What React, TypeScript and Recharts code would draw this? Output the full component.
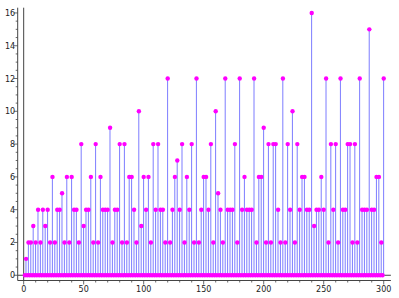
import React from 'react';
import { ComposedChart, Bar, Scatter, XAxis, YAxis, ReferenceLine } from 'recharts';

// Number of even divisors of n, for n = 1..300
const evenDivisorCounts: number[] = [
  0, 1, 0, 2, 0, 2, 0, 3, 0, 2, 0, 4, 0, 2, 0, 4, 0, 3, 0, 4,
  0, 2, 0, 6, 0, 2, 0, 4, 0, 4, 0, 5, 0, 2, 0, 6, 0, 2, 0, 6,
  0, 4, 0, 4, 0, 2, 0, 8, 0, 3, 0, 4, 0, 4, 0, 6, 0, 2, 0, 8,
  0, 2, 0, 6, 0, 4, 0, 4, 0, 4, 0, 9, 0, 2, 0, 4, 0, 4, 0, 8,
  0, 2, 0, 8, 0, 2, 0, 6, 0, 6, 0, 4, 0, 2, 0, 10, 0, 3, 0, 6,
  0, 4, 0, 6, 0, 2, 0, 8, 0, 4, 0, 8, 0, 4, 0, 4, 0, 2, 0, 12,
  0, 2, 0, 4, 0, 6, 0, 7, 0, 4, 0, 8, 0, 2, 0, 6, 0, 4, 0, 8,
  0, 2, 0, 12, 0, 2, 0, 4, 0, 6, 0, 6, 0, 4, 0, 8, 0, 2, 0, 10,
  0, 5, 0, 4, 0, 2, 0, 12, 0, 4, 0, 4, 0, 4, 0, 8, 0, 2, 0, 12,
  0, 4, 0, 6, 0, 4, 0, 4, 0, 4, 0, 12, 0, 2, 0, 6, 0, 6, 0, 9,
  0, 2, 0, 8, 0, 2, 0, 8, 0, 8, 0, 4, 0, 2, 0, 12, 0, 2, 0, 8,
  0, 4, 0, 10, 0, 2, 0, 8, 0, 4, 0, 6, 0, 6, 0, 4, 0, 4, 0, 16,
  0, 3, 0, 4, 0, 4, 0, 6, 0, 4, 0, 12, 0, 2, 0, 8, 0, 4, 0, 8,
  0, 2, 0, 12, 0, 4, 0, 4, 0, 8, 0, 8, 0, 2, 0, 8, 0, 2, 0, 12,
  0, 4, 0, 4, 0, 4, 0, 15, 0, 4, 0, 4, 0, 6, 0, 6, 0, 2, 0, 12,
];

const xMajorTicks = [0, 50, 100, 150, 200, 250, 300];
const yMajorTicks = [0, 2, 4, 6, 8, 10, 12, 14, 16];

const data = evenDivisorCounts.map((v, i) => ({ n: i + 1, v }));

const xMinor: number[] = [];
for (let t = 0; t <= 300; t += 10) xMinor.push(t);
const yMinor: number[] = [];
for (let t = 0; t <= 16.001; t += 0.5) yMinor.push(Math.round(t * 10) / 10);

const FRAME = '#444';
const TEXT = '#222';
const FONT = 'DejaVu Sans, sans-serif';

const XTick = (props: any) => {
  const { x, y, payload } = props;
  const v = payload.value;
  const major = xMajorTicks.includes(v);
  return (
    <g>
      <line x1={x} x2={x} y1={y} y2={y + (major ? 4 : 2)} stroke={FRAME} strokeWidth={0.8} />
      {major && (
        <text x={x} y={y + 11} textAnchor="middle" fontSize={8} fill={TEXT} fontFamily={FONT}>
          {v}
        </text>
      )}
    </g>
  );
};

const YTick = (props: any) => {
  const { x, y, payload } = props;
  const v = payload.value;
  const major = yMajorTicks.includes(v);
  return (
    <g>
      <line x1={x} x2={x - (major ? 4 : 2)} y1={y} y2={y} stroke={FRAME} strokeWidth={0.8} />
      {major && (
        <text x={x - 2.5} y={y + 3} textAnchor="end" fontSize={8} fill={TEXT} fontFamily={FONT}>
          {v}
        </text>
      )}
    </g>
  );
};

const Dot = (p: any) => <circle cx={p.cx} cy={p.cy} r={2.2} fill="#ff00ff" />;

export default function App() {
  return (
    <div style={{ position: 'absolute', left: 0, top: 0, background: '#fff' }}>
      <ComposedChart
        width={399}
        height={298}
        data={data}
        margin={{ top: 7.7, right: 8.1, left: 0, bottom: 0 }}
      >
        <XAxis
          xAxisId="b"
          dataKey="n"
          type="number"
          domain={[-4.98, 305.98]}
          allowDataOverflow
          ticks={xMinor}
          interval={0}
          tick={<XTick />}
          tickLine={false}
          tickSize={0}
          tickMargin={0}
          height={17.5}
          axisLine={{ stroke: FRAME, strokeWidth: 1 }}
        />
        <XAxis
          xAxisId="t"
          orientation="top"
          type="number"
          dataKey="n"
          domain={[-4.98, 305.98]}
          allowDataOverflow
          height={0}
          tick={false}
          tickLine={false}
          axisLine={{ stroke: FRAME, strokeWidth: 1 }}
        />
        <YAxis
          yAxisId="l"
          type="number"
          domain={[-0.32, 16.32]}
          allowDataOverflow
          ticks={yMinor}
          interval={0}
          tick={<YTick />}
          tickLine={false}
          tickSize={0}
          tickMargin={0}
          width={17.7}
          axisLine={{ stroke: FRAME, strokeWidth: 1 }}
        />
        <YAxis
          yAxisId="r"
          orientation="right"
          type="number"
          domain={[-0.32, 16.32]}
          allowDataOverflow
          width={0}
          tick={false}
          tickLine={false}
          axisLine={{ stroke: FRAME, strokeWidth: 1 }}
        />
        <ReferenceLine xAxisId="b" yAxisId="l" x={0} stroke={FRAME} strokeWidth={1} />
        <ReferenceLine xAxisId="b" yAxisId="l" y={0} stroke={FRAME} strokeWidth={1} />
        <Bar
          xAxisId="b"
          yAxisId="l"
          dataKey="v"
          fill="#7d7dff"
          barSize={1}
          isAnimationActive={false}
        />
        <Scatter
          xAxisId="b"
          yAxisId="l"
          dataKey="v"
          shape={Dot}
          isAnimationActive={false}
        />
      </ComposedChart>
    </div>
  );
}
